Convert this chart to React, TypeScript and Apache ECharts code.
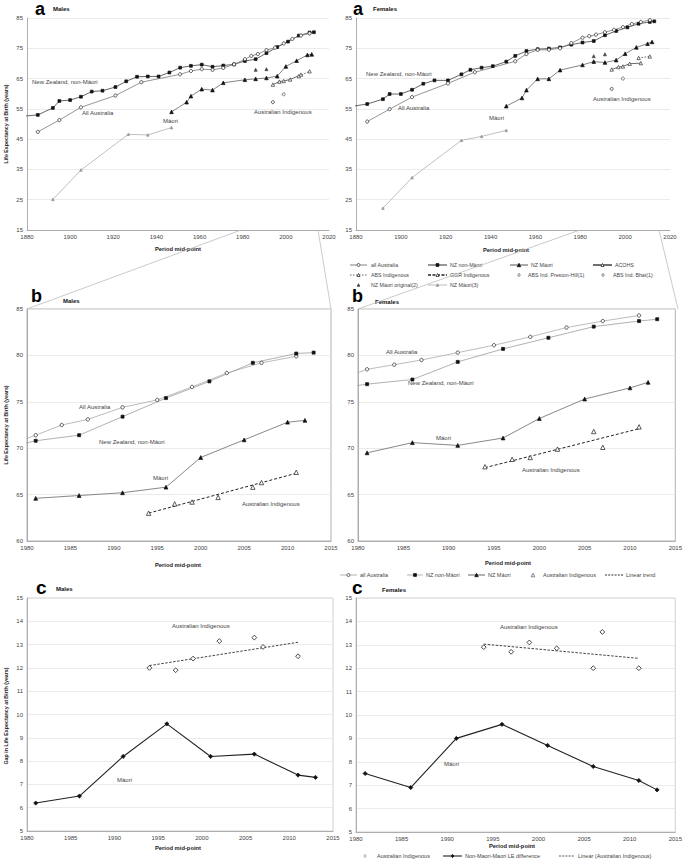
import React, { useEffect, useRef } from 'react';
import * as echarts from 'echarts';

const FONT = 'Liberation Sans, Arial, sans-serif';

// ---------- Panel a/b data: life expectancy at birth, [period mid-point, years] ----------
const maleNZnonMaori = [[1885,53.0],[1892,55.3],[1895,57.6],[1900,57.9],[1905,59.0],[1910,60.7],[1915,61.0],[1921,62.2],[1926,64.1],[1931,65.6],[1936,65.7],[1941,65.7],[1946,67.0],[1951,68.6],[1956,69.2],[1961,69.6],[1966,68.9],[1971,69.3],[1976,69.7],[1981,70.8],[1986,71.4],[1991,73.4],[1996,75.4],[2001,77.2],[2006,79.2],[2011,80.2],[2013,80.3]];
const maleNZnonMaoriLead = [1867.5, 51.9];
const maleAllAustralia = [[1885,47.4],[1895,51.3],[1905,55.5],[1921,59.4],[1933,63.8],[1951,66.4],[1956,67.5],[1961,68.1],[1966,67.9],[1971,68.5],[1976,69.7],[1981,71.4],[1984,72.5],[1987,73.1],[1991,74.4],[1995,75.2],[1999,76.6],[2003,78.1],[2007,79.2],[2011,79.9]];
const maleNZMaori = [[1947,54.0],[1954,57.2],[1956,59.2],[1961,61.5],[1966,61.2],[1971,63.6],[1981,64.6],[1986,64.9],[1991,65.2],[1996,65.8],[2000,69.0],[2005,70.9],[2010,72.8],[2012,73.0]];
const maleMaoriOriginal = [[1986,67.9],[1991,68.1]];
const maleMaori3 = [[1892,25.1],[1905,34.8],[1927,46.6],[1936,46.4],[1947,48.8]];
const maleACOHS = [[1994,63.0],[1997,64.0],[1999,64.2],[2002,64.7],[2007,66.3]];
const maleABSIndigenous = [[2006,65.8],[2011,67.4]];
const malePrestonHill = [[1994,57.2]];
const maleBhat = [[1999,59.8]];
const maleAusIndigenous = [[1994,63.0],[1997,64.0],[1999,64.2],[2002,64.7],[2006,65.8],[2007,66.3],[2011,67.4]];
const maleAusIndigenousTrend = [[1994,63.0],[2011,67.3]];

const femaleNZnonMaori = [[1885,56.6],[1892,58.2],[1895,59.9],[1900,59.9],[1905,61.3],[1910,63.3],[1915,64.4],[1921,64.4],[1927,66.4],[1931,67.9],[1936,68.6],[1941,69.1],[1947,70.6],[1951,72.5],[1956,74.1],[1961,74.7],[1966,74.9],[1971,75.3],[1976,76.2],[1981,76.9],[1986,77.4],[1991,79.3],[1996,80.7],[2001,81.9],[2006,83.1],[2011,83.7],[2013,83.9]];
const femaleNZnonMaoriLead = [1872.9, 55.2];
const femaleAllAustralia = [[1885,50.8],[1895,54.9],[1905,58.9],[1921,63.4],[1933,67.1],[1951,70.7],[1956,73.1],[1961,74.5],[1966,74.5],[1971,75.0],[1976,76.7],[1981,78.5],[1984,79.0],[1987,79.5],[1991,80.3],[1995,81.1],[1999,82.0],[2003,83.0],[2007,83.7],[2011,84.3]];
const femaleNZMaori = [[1947,55.9],[1954,58.6],[1956,61.2],[1961,64.9],[1966,64.9],[1971,67.8],[1981,69.5],[1986,70.6],[1991,70.3],[1996,71.1],[2000,73.2],[2005,75.3],[2010,76.5],[2012,77.1]];
const femaleMaoriOriginal = [[1986,72.4],[1991,73.0]];
const femaleMaori3 = [[1892,22.2],[1905,32.3],[1927,44.6],[1936,45.9],[1947,47.9]];
const femaleACOHS = [[1994,68.0],[1997,68.8],[1999,69.0],[2002,69.9],[2007,70.1]];
const femaleABSIndigenous = [[2006,71.8],[2011,72.3]];
const femalePrestonHill = [[1994,61.6]];
const femaleBhat = [[1999,65.0]];
const femaleAusIndigenous = [[1994,68.0],[1997,68.8],[1999,69.0],[2002,69.9],[2006,71.8],[2007,70.1],[2011,72.3]];
const femaleAusIndigenousTrend = [[1994,67.9],[2011,72.1]];

// ---------- Panel c data: gap in life expectancy ----------
const maleMaoriGap = [[1981,6.2],[1986,6.5],[1991,8.2],[1996,9.6],[2001,8.2],[2006,8.3],[2011,7.4],[2013,7.3]];
const maleIndigenousGap = [[1994,12.0],[1997,11.9],[1999,12.4],[2002,13.15],[2006,13.3],[2007,12.9],[2011,12.5]];
const maleIndigenousGapTrend = [[1994,12.1],[2011,13.1]];
const femaleMaoriGap = [[1981,7.5],[1986,6.9],[1991,9.0],[1996,9.6],[2001,8.7],[2006,7.8],[2011,7.2],[2013,6.8]];
const femaleIndigenousGap = [[1994,12.9],[1997,12.7],[1999,13.1],[2002,12.85],[2006,12.0],[2007,13.55],[2011,12.0]];
const femaleIndigenousGapTrend = [[1994,13.03],[2011,12.42]];

// axis ranges
const aX = { min: 1880, max: 2020, interval: 20 };
const aY = { min: 15, max: 85, interval: 10 };
const bX = { min: 1980, max: 2015, interval: 5 };
const bY = { min: 60, max: 85, interval: 5 };
const cY = { min: 5, max: 15, interval: 1 };

const fromYear = (d: number[][], y: number) => d.filter((p) => p[0] >= y - 5);

function xAx(gi: number, r: any, boxed: boolean) {
  return {
    type: 'value', gridIndex: gi, min: r.min, max: r.max, interval: r.interval,
    axisLine: { show: true, onZero: false, lineStyle: { color: boxed ? '#a0a0a0' : '#9a9a9a', width: 0.8 } },
    axisTick: { show: false },
    axisLabel: { fontSize: 6, color: '#444', fontFamily: FONT, margin: 4, formatter: (v: number) => String(v) },
    splitLine: { show: false },
  };
}
function yAx(gi: number, r: any, boxed: boolean) {
  return {
    type: 'value', gridIndex: gi, min: r.min, max: r.max, interval: r.interval,
    axisLine: { show: true, lineStyle: { color: boxed ? '#a0a0a0' : '#9a9a9a', width: 0.8 } },
    axisTick: { show: false },
    axisLabel: { fontSize: 6, color: '#444', fontFamily: FONT, margin: 4, formatter: (v: number) => String(v) },
    splitLine: { show: true, lineStyle: { color: '#e6e6e6', width: 0.8 } },
  };
}

function ln(name: string, gi: number, data: any[], o: any) {
  return {
    type: 'line', name, xAxisIndex: gi, yAxisIndex: gi, data,
    symbol: o.symbol || 'none', symbolSize: o.size || 4, showSymbol: o.symbol ? true : false,
    lineStyle: { color: o.color || '#666', width: o.width || 0.9, type: o.dash || 'solid' },
    itemStyle: { color: o.fill || '#111', borderColor: o.border || o.fill || '#111', borderWidth: o.bw || 0.7 },
    emphasis: { disabled: true }, clip: o.clip === undefined ? true : o.clip, z: o.z || 2,
    silent: true,
  };
}
function sc(name: string, gi: number, data: any[], o: any) {
  return {
    type: 'scatter', name, xAxisIndex: gi, yAxisIndex: gi, data,
    symbol: o.symbol, symbolSize: o.size || 4,
    itemStyle: { color: o.fill || '#111', borderColor: o.border || o.fill || '#111', borderWidth: o.bw || 0.7, opacity: 1 },
    emphasis: { disabled: true }, z: 3, silent: true,
  };
}

function panelA(gi: number, nz: any[], lead: number[], aus: any[], maori: any[], orig: any[], m3: any[], acohs: any[], abs: any[], ph: any[], bhat: any[]) {
  return [
    ln('NZ non-Māori', gi, [{ value: lead, symbol: 'none' }, ...nz], { color: '#555', width: 0.9, symbol: 'rect', size: 2.8, fill: '#111', clip: false }),
    ln('all Australia', gi, aus, { color: '#7a7a7a', width: 0.8, symbol: 'circle', size: 3.2, fill: '#fff', border: '#333', bw: 0.8 }),
    ln('NZ Māori', gi, maori, { color: '#666', width: 0.8, symbol: 'triangle', size: 3.6, fill: '#111' }),
    ln('NZ Māori(3)', gi, m3, { color: '#b0b0b0', width: 0.8, symbol: 'triangle', size: 2.6, fill: '#999' }),
    sc('NZ Māori original(2)', gi, orig, { symbol: 'triangle', size: 3, fill: '#444' }),
    ln('ACOHS', gi, acohs, { color: '#444', width: 0.8, symbol: 'triangle', size: 3.4, fill: '#fff', border: '#333' }),
    ln('ABS Indigenous', gi, abs, { color: '#444', width: 0.8, dash: [1.5, 1.5], symbol: 'triangle', size: 3.4, fill: '#fff', border: '#333' }),
    sc('ABS Ind. Preston-Hill(1)', gi, ph, { symbol: 'circle', size: 3, fill: '#fff', border: '#333', bw: 0.8 }),
    sc('ABS Ind. Bhat(1)', gi, bhat, { symbol: 'circle', size: 3, fill: '#fff', border: '#555', bw: 0.8 }),
  ];
}

function panelB(gi: number, nz: any[], aus: any[], maori: any[], ind: any[], trend: any[]) {
  return [
    ln('all Australia', gi, fromYear(aus, 1980), { color: '#b4b4b4', width: 0.9, symbol: 'circle', size: 3.4, fill: '#fff', border: '#333', bw: 0.8 }),
    ln('NZ non-Māori', gi, fromYear(nz, 1980), { color: '#a8a8a8', width: 0.9, symbol: 'rect', size: 3, fill: '#111' }),
    ln('NZ Māori', gi, fromYear(maori, 1980).filter((p) => p[0] >= 1971), { color: '#7a7a7a', width: 0.9, symbol: 'triangle', size: 3.8, fill: '#111' }),
    sc('Australian Indigenous', gi, ind, { symbol: 'triangle', size: 4.4, fill: '#fff', border: '#333', bw: 0.8 }),
    ln('Linear trend', gi, trend, { color: '#222', width: 1, dash: [3, 2] }),
  ];
}

function panelC(gi: number, maori: any[], ind: any[], trend: any[]) {
  return [
    ln('Non-Maori-Maori LE difference', gi, maori, { color: '#222', width: 1.1, symbol: 'diamond', size: 4.2, fill: '#111' }),
    sc('Australian Indigenous ', gi, ind, { symbol: 'diamond', size: 4.8, fill: '#fff', border: '#333', bw: 0.9 }),
    ln('Linear (Australian Indigenous)', gi, trend, { color: '#444', width: 1, dash: [2.5, 1.5] }),
  ];
}

// ---------- graphic helpers ----------
const txt = (x: number, y: number, text: string, o: any = {}) => ({
  type: 'text', silent: true, x, y, rotation: o.rot || 0,
  style: {
    text, fill: o.color || '#444', fontSize: o.size || 6, fontWeight: o.bold ? 'bold' : 'normal',
    fontFamily: o.family || FONT, textAlign: o.align || 'left', textVerticalAlign: 'middle',
  },
  z: 10,
});
const seg = (x1: number, y1: number, x2: number, y2: number, stroke: string, w: number, dash?: number[]) => ({
  type: 'line', silent: true, shape: { x1, y1, x2, y2 },
  style: { stroke, lineWidth: w, lineDash: dash || null }, z: 10,
});
function mk(kind: string, cx: number, cy: number, s: number, fill: string, stroke: string) {
  const h = s / 2;
  if (kind === 'circle') return { type: 'circle', silent: true, shape: { cx, cy, r: h }, style: { fill, stroke, lineWidth: 0.8 }, z: 11 };
  if (kind === 'rect') return { type: 'rect', silent: true, shape: { x: cx - h, y: cy - h, width: s, height: s }, style: { fill, stroke, lineWidth: 0.8 }, z: 11 };
  if (kind === 'triangle') return { type: 'polygon', silent: true, shape: { points: [[cx, cy - h], [cx + h, cy + h], [cx - h, cy + h]] }, style: { fill, stroke, lineWidth: 0.8 }, z: 11 };
  return { type: 'polygon', silent: true, shape: { points: [[cx, cy - h], [cx + h * 0.75, cy], [cx, cy + h], [cx - h * 0.75, cy]] }, style: { fill, stroke, lineWidth: 0.8 }, z: 11 };
}

const legendATexts = [
  ['all Australia', 'NZ non-Māori', 'NZ Māori', 'ACOHS'],
  ['ABS Indigenous', 'GGR Indigenous', 'ABS Ind. Preston-Hill(1)', 'ABS Ind. Bhat(1)'],
  ['NZ Māori original(2)', 'NZ Māori(3)'],
];
const legendBTexts = ['all Australia', 'NZ non-Māori', 'NZ Māori', 'Australian Indigenous', 'Linear trend'];
const legendCTexts = ['Australian Indigenous', 'Non-Maori-Maori LE difference', 'Linear (Australian Indigenous)'];

function buildGraphic() {
  const g: any[] = [];
  const LS = 5.3;
  // panel headings
  g.push(txt(35, 9, 'a', { size: 18, bold: true, color: '#000' }), txt(53, 9, 'Males', { size: 6, bold: true, color: '#111' }));
  g.push(txt(353, 9, 'a', { size: 18, bold: true, color: '#000' }), txt(373, 9, 'Females', { size: 6, bold: true, color: '#111' }));
  g.push(txt(31, 296, 'b', { size: 18, bold: true, color: '#000' }), txt(63, 301, 'Males', { size: 6, bold: true, color: '#111' }));
  g.push(txt(352, 296, 'b', { size: 18, bold: true, color: '#000' }), txt(375, 302, 'Females', { size: 6, bold: true, color: '#111' }));
  g.push(txt(36, 587, 'c', { size: 19, bold: true, color: '#000' }), txt(56, 589, 'Males', { size: 6, bold: true, color: '#111' }));
  g.push(txt(352, 587, 'c', { size: 19, bold: true, color: '#000' }), txt(382, 590, 'Females', { size: 6, bold: true, color: '#111' }));
  // axis titles
  const pm = 'Period mid-point';
  g.push(txt(178, 249, pm, { size: 5.8, bold: true, align: 'center', color: '#222' }));
  g.push(txt(506, 250, pm, { size: 5.8, bold: true, align: 'center', color: '#222' }));
  g.push(txt(178, 565, pm, { size: 5.8, bold: true, align: 'center', color: '#222' }));
  g.push(txt(508, 563, pm, { size: 5.8, bold: true, align: 'center', color: '#222' }));
  g.push(txt(178, 848, pm, { size: 5.8, bold: true, align: 'center', color: '#222' }));
  g.push(txt(512, 846, pm, { size: 5.8, bold: true, align: 'center', color: '#222' }));
  g.push(txt(6, 124, 'Life Expectancy at Birth (years)', { size: 5.3, bold: true, align: 'center', rot: Math.PI / 2, color: '#222' }));
  g.push(txt(6, 425, 'Life Expectancy at Birth (years)', { size: 5.3, bold: true, align: 'center', rot: Math.PI / 2, color: '#222' }));
  g.push(txt(6, 716, 'Gap in Life Expectancy at Birth (years)', { size: 5.3, bold: true, align: 'center', rot: Math.PI / 2, color: '#222' }));
  // annotations
  const ann: [number, number, string][] = [
    [32, 82, 'New Zealand, non-Māori'], [82, 113, 'All Australia'], [163, 121, 'Māori'], [254, 112, 'Australian Indigenous'],
    [366, 74, 'New Zealand, non-Māori'], [398, 108, 'All Australia'], [489, 118, 'Māori'], [593, 99, 'Australian Indigenous'],
    [79, 407, 'All Australia'], [99, 442, 'New Zealand, non-Māori'], [153, 478, 'Māori'], [242, 504, 'Australian Indigenous'],
    [386, 352, 'All Australia'], [408, 383, 'New Zealand, non-Māori'], [436, 438, 'Māori'], [522, 470, 'Australian Indigenous'],
    [172, 626, 'Australian Indigenous'], [117, 780, 'Māori'],
    [500, 627, 'Australian Indigenous'], [444, 764, 'Māori'],
  ];
  ann.forEach(([x, y, t]) => g.push(txt(x, y, t, { size: 6, color: '#444' })));

  // legend a
  const r1 = 265, r2 = 275, r3 = 285;
  g.push(seg(350, r1, 367, r1, '#777', 0.9), mk('circle', 358.5, r1, 3, '#fff', '#333'), txt(371, r1, legendATexts[0][0], { size: LS }));
  g.push(seg(428, r1, 447, r1, '#333', 1), mk('rect', 437.5, r1, 2.8, '#111', '#111'), txt(450, r1, legendATexts[0][1], { size: LS }));
  g.push(seg(510, r1, 528, r1, '#444', 0.9), mk('triangle', 519, r1, 3.4, '#111', '#111'), txt(531, r1, legendATexts[0][2], { size: LS }));
  g.push(seg(593, r1, 612, r1, '#222', 1.3), mk('triangle', 602.5, r1, 3, '#fff', '#333'), txt(615, r1, legendATexts[0][3], { size: LS }));
  g.push(seg(350, r2, 367, r2, '#555', 0.9, [1.5, 1.5]), mk('triangle', 358.5, r2, 3, '#fff', '#333'), txt(371, r2, legendATexts[1][0], { size: LS }));
  g.push(seg(428, r2, 447, r2, '#222', 1.6, [3, 1.5]), mk('triangle', 437.5, r2, 3, '#fff', '#333'), txt(450, r2, legendATexts[1][1], { size: LS }));
  g.push(mk('circle', 519, r2, 2.4, '#fff', '#555'), txt(528, r2, legendATexts[1][2], { size: LS }));
  g.push(mk('circle', 603, r2, 2.4, '#fff', '#555'), txt(613, r2, legendATexts[1][3], { size: LS }));
  g.push(mk('triangle', 358.5, r3, 2.6, '#444', '#444'), txt(371, r3, legendATexts[2][0], { size: LS }));
  g.push(seg(428, r3, 447, r3, '#aaa', 0.8), mk('triangle', 437.5, r3, 2.6, '#999', '#999'), txt(450, r3, legendATexts[2][1], { size: LS }));

  // legend b
  const rb = 575;
  g.push(seg(340, rb, 357, rb, '#aaa', 0.9), mk('circle', 348.5, rb, 3, '#fff', '#333'), txt(360, rb, legendBTexts[0], { size: 5.5 }));
  g.push(seg(407, rb, 423, rb, '#aaa', 0.9), mk('rect', 415, rb, 2.8, '#111', '#111'), txt(426, rb, legendBTexts[1], { size: 5.5 }));
  g.push(seg(468, rb, 485, rb, '#555', 0.9), mk('triangle', 476.5, rb, 3.4, '#111', '#111'), txt(488, rb, legendBTexts[2], { size: 5.5 }));
  g.push(mk('triangle', 533, rb, 3.6, '#fff', '#666'), txt(543, rb, legendBTexts[3], { size: 5.5 }));
  g.push(seg(605, rb, 623, rb, '#333', 1, [2, 1.2]), txt(626, rb, legendBTexts[4], { size: 5.5 }));

  // legend c
  const rc = 856;
  g.push(mk('diamond', 365, rc, 3.2, '#fff', '#999'), txt(377, rc, legendCTexts[0], { size: 5.5 }));
  g.push(seg(443, rc, 462, rc, '#222', 1.1), mk('diamond', 452.5, rc, 3.4, '#111', '#111'), txt(465, rc, legendCTexts[1], { size: 5.5 }));
  g.push(seg(559, rc, 575, rc, '#444', 0.9, [2, 1.2]), txt(578, rc, legendCTexts[2], { size: 5.5 }));

  // zoom connector lines from panel a (1980-2015) to panel b frames
  g.push(seg(241, 230, 27, 309, '#bdbdbd', 0.8), seg(318, 230, 331, 309, '#bdbdbd', 0.8));
  g.push(seg(580, 230, 358, 309, '#bdbdbd', 0.8), seg(659, 230, 678, 309, '#bdbdbd', 0.8));
  return g;
}

export default function App() {
  const ref = useRef<HTMLDivElement>(null);
  useEffect(() => {
    const chart = echarts.init(ref.current!, null, { renderer: 'svg' });
    const boxed = { show: true, borderColor: '#a0a0a0', borderWidth: 0.8, backgroundColor: 'transparent' };
    const option: any = {
      animation: false,
      backgroundColor: '#fff',
      textStyle: { fontFamily: FONT },
      grid: [
        { left: 27, top: 18, width: 302, height: 212 },
        { left: 356, top: 18, width: 314, height: 212 },
        { left: 27, top: 309, width: 304, height: 232, ...boxed },
        { left: 358, top: 309, width: 320, height: 232, ...boxed },
        { left: 27, top: 598, width: 306, height: 233, ...boxed, borderColor: '#c4c4c4' },
        { left: 356, top: 598, width: 322, height: 234, ...boxed, borderColor: '#c4c4c4' },
      ],
      xAxis: [xAx(0, aX, false), xAx(1, aX, false), xAx(2, bX, true), xAx(3, bX, true), xAx(4, bX, true), xAx(5, bX, true)],
      yAxis: [yAx(0, aY, false), yAx(1, aY, false), yAx(2, bY, true), yAx(3, bY, true), yAx(4, cY, true), yAx(5, cY, true)],
      series: [
        ...panelA(0, maleNZnonMaori, maleNZnonMaoriLead, maleAllAustralia, maleNZMaori, maleMaoriOriginal, maleMaori3, maleACOHS, maleABSIndigenous, malePrestonHill, maleBhat),
        ...panelA(1, femaleNZnonMaori, femaleNZnonMaoriLead, femaleAllAustralia, femaleNZMaori, femaleMaoriOriginal, femaleMaori3, femaleACOHS, femaleABSIndigenous, femalePrestonHill, femaleBhat),
        ...panelB(2, maleNZnonMaori, maleAllAustralia, maleNZMaori, maleAusIndigenous, maleAusIndigenousTrend),
        ...panelB(3, femaleNZnonMaori, femaleAllAustralia, femaleNZMaori, femaleAusIndigenous, femaleAusIndigenousTrend),
        ...panelC(4, maleMaoriGap, maleIndigenousGap, maleIndigenousGapTrend),
        ...panelC(5, femaleMaoriGap, femaleIndigenousGap, femaleIndigenousGapTrend),
      ],
      graphic: buildGraphic(),
    };
    chart.setOption(option);
    return () => chart.dispose();
  }, []);
  return <div ref={ref} style={{ position: 'absolute', left: 0, top: 0, width: 685, height: 861, background: '#fff' }} />;
}
